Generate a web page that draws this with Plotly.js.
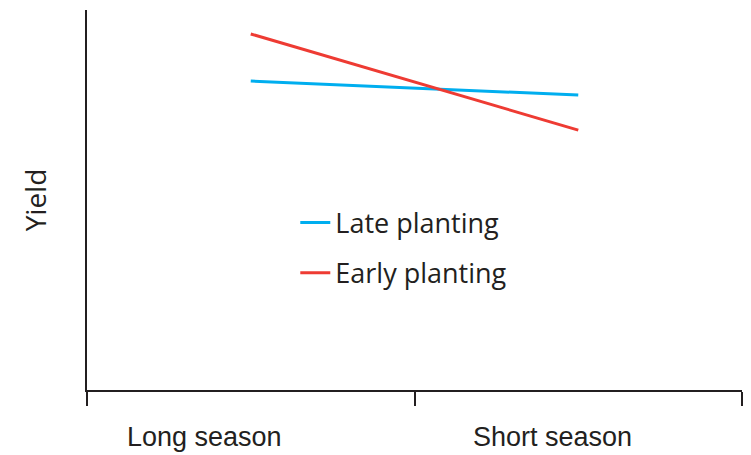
<!DOCTYPE html>
<html>
<head>
<meta charset="utf-8">
<script src="https://cdn.plot.ly/plotly-3.0.1.min.js"></script>
<style>html,body{margin:0;padding:0;background:#fff;}#chart{width:751px;height:455px;}</style>
</head>
<body>
<div id="chart"></div>
<script>
var categories = ["Long season", "Short season"];
var seriesNames = ["Late planting", "Early planting"];
var latePlanting = [8.13, 7.76];
var earlyPlanting = [9.37, 6.84];
var seriesColors = ["#00AEEF", "#EE3B33"];

var xPos = categories.map(function (c, i) { return i + 0.5; });
var ink = "#231F20";

var traces = [latePlanting, earlyPlanting].map(function (vals, k) {
  return {
    type: "scatter", mode: "lines",
    x: xPos, y: vals, name: seriesNames[k],
    legendgroup: "g" + k,
    line: { color: seriesColors[k], width: 3 },
    hoverinfo: "skip"
  };
});

var labelShift = [-46, -26];
var annotations = categories.map(function (c, i) {
  return {
    x: xPos[i], y: 0, xref: "x", yref: "y",
    text: c, showarrow: false,
    yanchor: "top", yshift: -30, xshift: labelShift[i],
    font: { family: "Liberation Sans Narrow, Arial Narrow, sans-serif", size: 27, color: ink }
  };
});

var layout = {
  width: 751, height: 455,
  margin: { l: 87, r: 9, t: 10, b: 65 },
  paper_bgcolor: "#fff", plot_bgcolor: "#fff",
  showlegend: true,
  legend: {
    x: 0.318, y: 0.504, xanchor: "left", yanchor: "top",
    bgcolor: "rgba(0,0,0,0)",
    traceorder: "grouped", tracegroupgap: 12,
    font: { family: "Open Sans, sans-serif", size: 27, color: ink }
  },
  xaxis: {
    range: [0, 2], tickvals: [0, 1, 2], showticklabels: false,
    ticks: "outside", ticklen: 14, tickwidth: 2, tickcolor: ink,
    showline: true, linecolor: ink, linewidth: 2,
    showgrid: false, zeroline: false, fixedrange: true
  },
  yaxis: {
    range: [0, 10], showticklabels: false, ticks: "",
    showline: true, linecolor: ink, linewidth: 2,
    showgrid: false, zeroline: false, fixedrange: true,
    title: { text: "Yield", standoff: 30, font: { family: "Open Sans, sans-serif", size: 28, color: ink } }
  },
  annotations: annotations
};

Plotly.newPlot("chart", traces, layout, { displayModeBar: false, staticPlot: true });
</script>
</body>
</html>
